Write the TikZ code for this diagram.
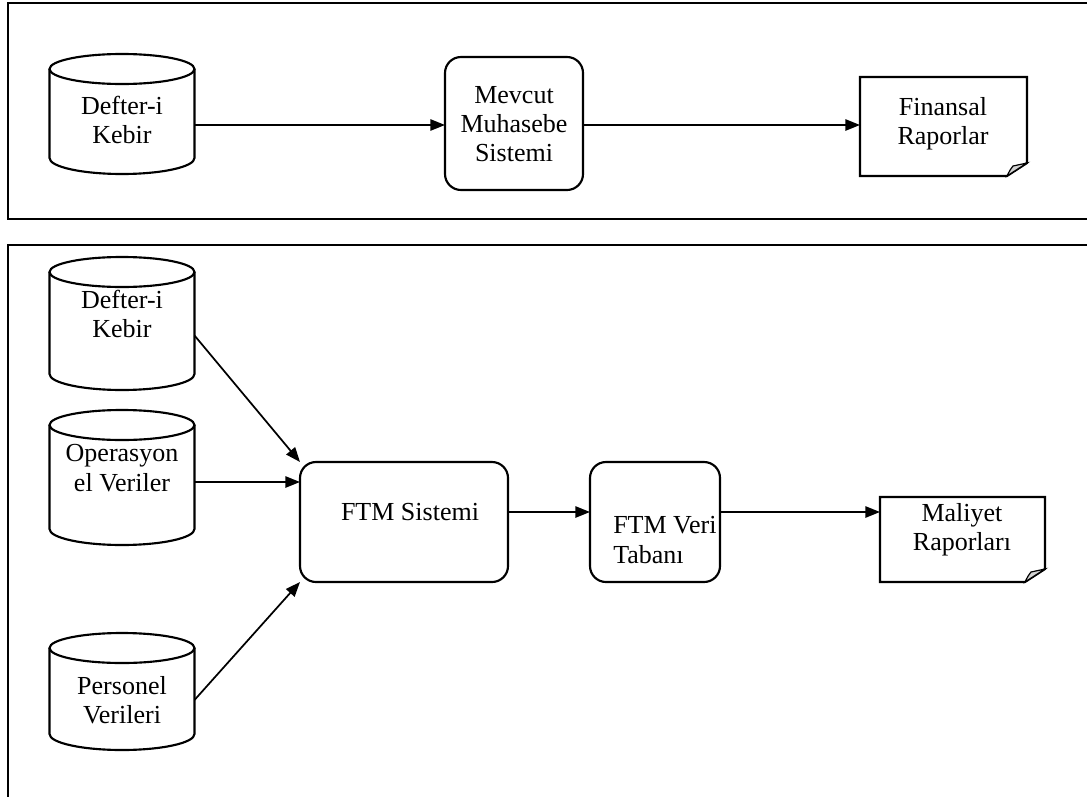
\documentclass[tikz,border=0pt]{standalone}
\usepackage{fontspec}
\setmainfont{Liberation Serif}
\usetikzlibrary{arrows.meta}
\def\u{0.75pt}
\tikzset{
  frameline/.style={line width=1.7pt},
  shapeline/.style={line width=1.6pt},
  flow/.style={line width=1.3pt,-{Triangle[length=11pt,width=8.5pt]}},
  lbl/.style={font=\fontsize{19.5}{22}\selectfont,align=center,inner sep=0pt},
  shapebox/.style={inner sep=0pt,outer sep=0pt},
  procbox/.style={draw,shapeline,rounded corners=12pt,inner sep=0pt,outer sep=0pt},
}
% data store: name, centre x, top y, bottom y
\newcommand\datastore[4]{%
  \node[shapebox,minimum width=145*\u,minimum height={(#4-#3)*\u}] (#1) at (#2,{-(#3+#4)/2}) {};
  \draw[shapeline] ([yshift=-15*\u]#1.north west) -- ([yshift=16*\u]#1.south west)
    arc[start angle=180,end angle=360,x radius=72.5*\u,y radius=16*\u]
    -- ([yshift=-15*\u]#1.north east);
  \draw[shapeline] ([yshift=-15*\u]#1.north) ellipse[x radius=72.5*\u,y radius=15*\u];
}
% document with curled corner: name, left, top, right, bottom
\newcommand\docsheet[5]{%
  \node[shapebox,minimum width={(#4-#2)*\u},minimum height={(#5-#3)*\u}] (#1) at ({(#2+#4)/2},{-(#3+#5)/2}) {};
  \draw[shapeline] (#1.north west) -- (#1.north east) -- ([yshift=13*\u]#1.south east)
    -- ([xshift=-20*\u]#1.south east) -- (#1.south west) -- cycle;
  \filldraw[fill=gray!35,line width=0.9pt] ([xshift=-20*\u]#1.south east)
    .. controls ([xshift=-17*\u,yshift=6*\u]#1.south east) .. ([xshift=-14*\u,yshift=10*\u]#1.south east)
    -- ([yshift=13*\u]#1.south east) -- cycle;
}
\begin{document}
\begin{tikzpicture}[x=0.75pt,y=0.75pt]
\useasboundingbox (0,0) rectangle (1087,-796);

% frames
\draw[frameline] (1100,-3) -- (8,-3) -- (8,-219) -- (1100,-219);
\draw[frameline] (1100,-245) -- (8,-245) -- (8,-810);

% current accounting system
\datastore{dkA}{122}{54}{174}
\node[lbl] (dkAt) at (122,-120) {Defter-i\\Kebir};
\node[procbox,minimum width=138*\u,minimum height=133*\u] (mevcut) at (514,-123.5) {};
\node[lbl] (mevcutt) at (514,-124) {Mevcut\\Muhasebe\\Sistemi};
\docsheet{fin}{860}{77}{1027}{176}
\node[lbl] (fint) at (943,-124) {Finansal\\Raporlar};

\draw[flow] ([yshift=-11*\u]dkA.east) -- ([yshift=-11*\u]dkA.east -| mevcut.west);
\draw[flow] ([yshift=-1.5*\u]mevcut.east) -- ([yshift=-1.5*\u]mevcut.east -| fin.west);

% activity based costing system
\datastore{dkB}{122}{257}{390}
\node[lbl] (dkBt) at (122,-314) {Defter-i\\Kebir};
\datastore{ops}{122}{410}{545}
\node[lbl] (opst) at (122,-468) {Operasyon\\el Veriler};
\datastore{per}{122}{633}{750}
\node[lbl] (pert) at (122,-700) {Personel\\Verileri};

\node[procbox,minimum width=208*\u,minimum height=120*\u] (ftm) at (404,-522) {};
\node[lbl] (ftmt) at (410,-512) {FTM Sistemi};
\node[procbox,minimum width=130*\u,minimum height=120*\u] (veri) at (655,-522) {};
\node[lbl,align=left,anchor=west] (verit) at (613,-540) {FTM Veri\\Tabanı};
\docsheet{mal}{880}{497}{1045}{582}
\node[lbl] (malt) at (962,-530) {Maliyet\\Raporları};

\draw[flow] ([yshift=-12*\u]dkB.east) -- (ftm.north west);
\draw[flow] ([yshift=-4.5*\u]ops.east) -- ([yshift=-4.5*\u]ops.east -| ftm.west);
\draw[flow] ([yshift=-8.5*\u]per.east) -- (ftm.south west);
\draw[flow] ([yshift=10*\u]ftm.east) -- ([yshift=10*\u]ftm.east -| veri.west);
\draw[flow] ([yshift=10*\u]veri.east) -- ([yshift=10*\u]veri.east -| mal.west);
\end{tikzpicture}
\end{document}
